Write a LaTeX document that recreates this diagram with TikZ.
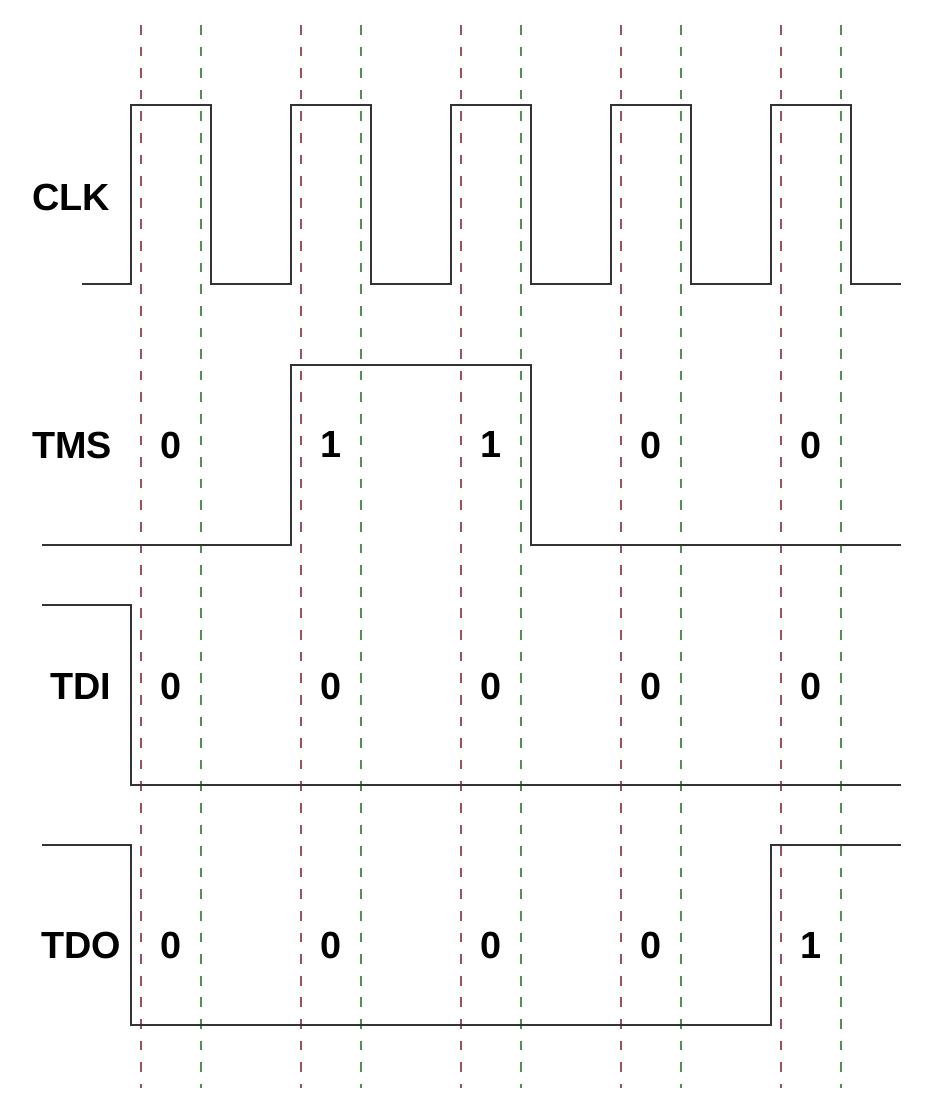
\documentclass[tikz,border=0pt]{standalone}
\usepackage{fontspec}
\setmainfont{Liberation Sans}
\definecolor{edgered}{RGB}{160,80,90}
\definecolor{edgegreen}{RGB}{80,145,80}
\usetikzlibrary{positioning}

\begin{document}
\begin{tikzpicture}[x=0.02cm, y=-0.02cm,
    wave/.style={line width=1.1pt, black!80, line join=miter},
    guide/.style={line width=1.6pt, dash pattern=on 5.5pt off 6.8pt},
    signame/.style={font=\bfseries\fontsize{21.5}{25}\selectfont},
    bitval/.style={font=\bfseries\fontsize{21.5}{25}\selectfont}]
    \useasboundingbox (0,0) rectangle (946,1114);

    % Sampling edges: red (rising) and green (falling)
    \foreach \x in {141,301,461,621,781} {
      \draw[guide, edgered] (\x, 25) -- (\x, 1088);
      \draw[guide, edgegreen] (\x+60, 25) -- (\x+60, 1088);
    }

    % CLK
    \node[signame] (clk) at (71, 197) {CLK};
    \draw[wave] (82, 284)
      \foreach \x in {131,291,451,611,771} {
        -- (\x, 284) -- (\x, 105) -- (\x+80, 105) -- (\x+80, 284)
      } -- (901, 284);

    % TMS
    \node[signame] (tms) at (72, 445) {TMS};
    \draw[wave] (42, 545) -- (291, 545) -- (291, 365) -- (531, 365)
      -- (531, 545) -- (901, 545);

    % TDI
    \node[signame] (tdi) at (81, 686) {TDI};
    \draw[wave] (42, 605) -- (131, 605) -- (131, 785) -- (901, 785);

    % TDO
    \node[signame] (tdo) at (81, 945) {TDO};
    \draw[wave] (42, 845) -- (131, 845) -- (131, 1025) -- (771, 1025)
      -- (771, 845) -- (901, 845);

    % Bit values per cycle
    \foreach \x/\ms/\di/\do [count=\i] in
        {171/0/0/0, 331/1/0/0, 491/1/0/0, 651/0/0/0, 811/0/0/1} {
      \node[bitval] (tms\i) at (\x, 445) {\ms};
      \node[bitval] (tdi\i) at (\x, 686) {\di};
      \node[bitval] (tdo\i) at (\x, 945) {\do};
    }
\end{tikzpicture}
\end{document}
